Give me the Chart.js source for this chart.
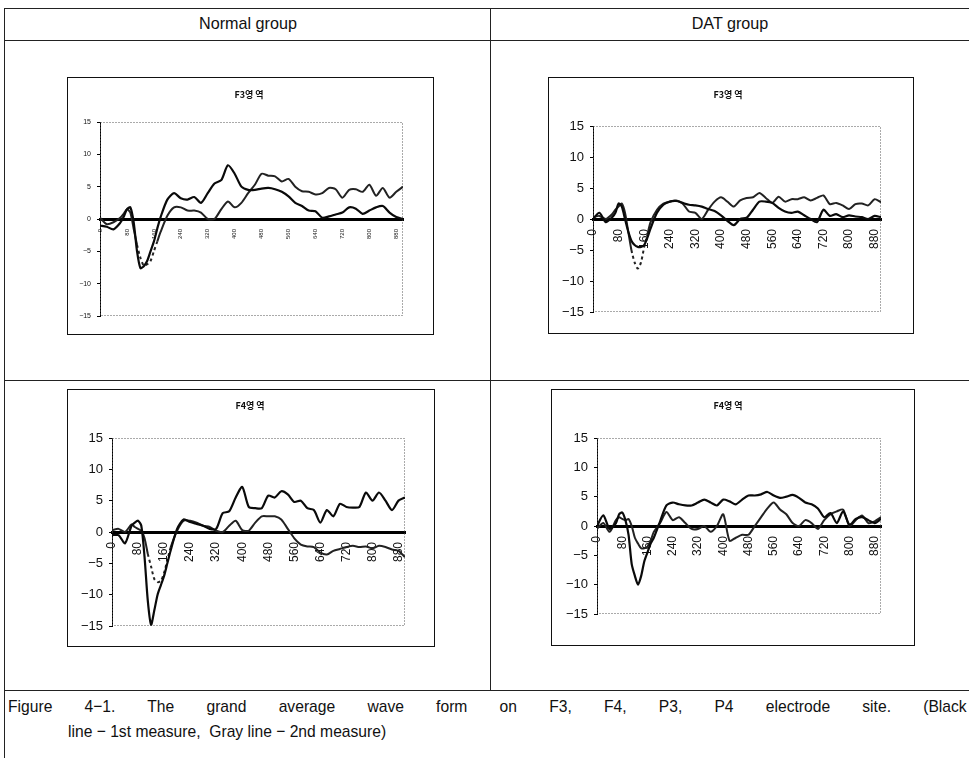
<!DOCTYPE html>
<html>
<head>
<meta charset="utf-8">
<script src="https://cdn.jsdelivr.net/npm/chart.js@4.4.0/dist/chart.umd.min.js"></script>
<style>
body { margin: 0; background: #fff; }
#page { position: relative; width: 969px; height: 758px; overflow: hidden;
        font-family: "Liberation Sans", Arial, sans-serif; color: #111; }
.hl { position: absolute; height: 1px; background: #222; }
.vl { position: absolute; width: 1px; background: #222; }
.box { position: absolute; box-sizing: border-box; border: 1px solid #111; }
.box canvas { position: absolute; left: 0; top: 0; }
.ttl { position: absolute; font: bold 9px "Noto Sans CJK KR", sans-serif; transform: translate(-50%, -50%); white-space: nowrap; }
.head { position: absolute; top: 24px; font-size: 17px; transform: translate(-50%, -50%) scaleX(0.95); white-space: nowrap; }
.cap { position: absolute; font-size: 17px; white-space: nowrap; transform: scaleX(0.92); transform-origin: left top; }
</style>
</head>
<body>
<div id="page">
  <!-- table lines -->
  <div class="hl" style="left:4px; top:8px; width:965px"></div>
  <div class="hl" style="left:4px; top:40px; width:965px"></div>
  <div class="hl" style="left:4px; top:380px; width:965px"></div>
  <div class="hl" style="left:4px; top:690px; width:965px"></div>
  <div class="vl" style="left:4px; top:8px; height:750px"></div>
  <div class="vl" style="left:490px; top:8px; height:682px"></div>

  <div class="head" style="left:248px">Normal group</div>
  <div class="head" style="left:730px">DAT group</div>

  <div class="box" style="left:67px; top:77px; width:367px; height:258px"><canvas id="c1" width="365" height="256"></canvas></div>
  <div class="box" style="left:548px; top:77px; width:366px; height:257px"><canvas id="c2" width="364" height="255"></canvas></div>
  <div class="box" style="left:67px; top:389px; width:368px; height:258px"><canvas id="c3" width="366" height="256"></canvas></div>
  <div class="box" style="left:551px; top:389px; width:364px; height:257px"><canvas id="c4" width="362" height="255"></canvas></div>

  <div class="ttl" style="left:249px; top:94px">F3영 역</div>
  <div class="ttl" style="left:728px; top:94px">F3영 역</div>
  <div class="ttl" style="left:250px; top:405px">F4영 역</div>
  <div class="ttl" style="left:728px; top:405px">F4영 역</div>

  <div class="cap" style="left:8px; top:697px; width:1042px; white-space:normal; text-align:justify; text-align-last:justify">Figure 4−1. The grand average wave form on F3, F4, P3, P4 electrode site. (Black</div>
  <div class="cap" style="left:68px; top:722px">line − 1st measure,&nbsp; Gray line − 2nd measure)</div>
</div>

<script>
// time points (ms)
var times = [0, 20, 40, 60, 70, 80, 90, 100, 110, 120, 130, 140, 150, 160, 170, 180,
  200, 220, 240, 260, 280, 300, 320, 340, 360, 380, 400, 420, 440, 460, 480, 500,
  520, 540, 560, 580, 600, 620, 640, 660, 680, 700, 720, 740, 760, 780, 800, 820,
  840, 860, 880, 900];
var xTicks = [0, 80, 160, 240, 320, 400, 480, 560, 640, 720, 800, 880];
var yTicks = [-15, -10, -5, 0, 5, 10, 15];

// Normal group, F3
var normalF3First = [-1.0, -1.2, -1.6, -0.6, 0.3, 1.5, 1.8, -0.5, -5.0, -7.6, -7.3, -6.5, -5.0, -3.5, -1.5, 0.3,
  3.0, 4.0, 3.2, 3.0, 3.4, 2.5, 4.0, 5.5, 6.0, 8.3, 7.0, 5.0, 4.5, 4.5, 4.7, 4.8,
  4.6, 4.2, 3.5, 2.5, 2.0, 1.3, 1.2, 0.2, 0.4, 0.7, 1.0, 1.8, 1.6, 0.8, 1.3, 1.8,
  2.0, 1.0, 0.3, 0.0];
var normalF3Second = [0.2, -0.8, -0.5, 0.2, 0.8, 1.5, 1.0, -1.5, -4.0, -6.0, -7.2, -7.0, -6.5, -5.0, -3.5, -2.0,
  0.5, 1.8, 1.8, 1.3, 1.3, 1.0, 0.0, 0.0, 1.5, 2.7, 1.8, 2.5, 4.0, 5.3, 7.0, 6.7,
  6.6, 5.8, 6.2, 5.0, 4.3, 4.2, 3.8, 4.0, 4.8, 4.6, 3.3, 4.5, 4.6, 4.2, 5.3, 3.6,
  4.8, 3.3, 4.2, 5.0];

// DAT group, F3
var datF3First = [0.0, 1.0, -0.5, 0.3, 1.0, 2.5, 2.0, 0.0, -2.0, -3.5, -4.2, -4.5, -4.5, -4.2, -3.0, -1.5,
  1.0, 2.3, 2.8, 2.9, 2.6, 2.3, 2.2, 2.0, 1.6, 1.3, 0.6, -0.3, -1.0, 0.0, 0.2, 1.5,
  2.8, 2.8, 2.6, 1.8, 1.2, 1.0, 1.2, 0.6, 0.0, -0.5, 1.5, 0.5, 0.8, 0.3, 0.6, 0.4,
  0.3, 0.0, 0.5, 0.3];
var datF3Second = [0.3, 0.5, 0.0, 0.8, 1.5, 2.0, 2.5, 1.0, -2.0, -5.0, -7.0, -8.0, -7.0, -4.5, -2.5, -0.5,
  1.5, 2.5, 2.8, 3.0, 2.5, 1.2, 1.0, 0.0, 1.5, 2.8, 3.5, 2.8, 2.0, 3.0, 3.4, 3.5,
  4.2, 3.4, 2.6, 3.6, 2.8, 3.2, 3.2, 3.5, 3.0, 3.4, 3.8, 2.4, 2.6, 2.2, 1.6, 2.4,
  2.5, 2.2, 3.2, 2.7];

// Normal group, F4
var normalF4First = [-0.5, -0.5, -1.8, 1.0, 1.5, 1.8, 1.0, -4.0, -11.0, -14.8, -12.5, -10.0, -8.5, -7.0, -5.0, -3.0,
  0.5, 2.0, 1.6, 1.3, 1.0, 0.5, 0.5, 3.0, 3.3, 5.5, 7.2, 4.0, 3.8, 3.8, 5.8, 5.5,
  6.5, 6.0, 4.8, 5.0, 3.8, 3.5, 1.5, 3.5, 2.5, 4.5, 4.0, 3.9, 4.0, 6.3, 5.0, 6.3,
  5.0, 3.5, 5.0, 5.5];
var normalF4Second = [0.3, 0.5, 0.0, 1.2, 0.8, 0.5, 0.2, -1.0, -3.5, -5.5, -7.5, -8.0, -7.8, -6.5, -4.5, -2.5,
  0.2, 1.8, 1.8, 1.5, 1.0, 0.8, 0.2, 0.0, 1.0, 1.8, 0.3, 0.2, 1.5, 2.5, 2.5, 2.5,
  2.0, 0.5, -1.0, -2.0, -2.3, -2.4, -3.3, -3.6, -3.0, -2.7, -2.4, -2.2, -2.4, -2.3, -2.6, -2.2,
  -2.4, -2.8, -3.0, -4.0];

// DAT group, F4
var datF4First = [0.0, 1.8, -0.5, 0.5, 2.0, 2.3, 1.0, -1.5, -6.5, -8.5, -10.0, -8.5, -6.0, -4.5, -3.0, -2.0,
  0.8, 3.5, 4.0, 3.7, 3.5, 3.5, 4.0, 4.5, 4.0, 3.5, 4.5, 4.2, 3.7, 4.5, 5.2, 5.2,
  5.4, 5.8, 5.2, 4.8, 5.0, 5.3, 4.8, 4.0, 3.7, 3.0, 1.5, 2.2, 0.5, 2.5, 0.2, 1.2,
  1.5, 1.0, 0.5, 1.2];
var datF4Second = [-0.5, 0.5, -1.0, 1.0, 1.5, 1.2, 1.0, 1.2, 0.0, -2.0, -3.0, -3.8, -3.8, -3.5, -2.5, -1.0,
  0.5, 2.4, 1.0, 1.5, 0.5, -0.5, -0.5, 0.0, -1.0, 0.0, 2.0, -2.5, -2.0, -1.5, -1.5, 0.0,
  1.5, 3.0, 4.0, 2.8, 2.0, 0.5, 0.0, 1.0, 0.5, -0.5, 1.0, 2.0, 2.5, 2.8, 0.0, 1.0,
  1.8, 0.5, 0.8, 1.5];

// dotted frame round the plot area
const plotFrame = {
  id: 'plotFrame',
  beforeDatasetsDraw(chart) {
    const ctx = chart.ctx, a = chart.chartArea;
    ctx.save();
    ctx.strokeStyle = '#555';
    ctx.lineWidth = 1;
    ctx.setLineDash([1, 2]);
    ctx.strokeRect(a.left + 0.5, a.top + 0.5, a.right - a.left - 1, a.bottom - a.top - 1);
    ctx.restore();
  }
};

function points(values) {
  return times.map((t, i) => ({x: t, y: values[i]}));
}

// the 2nd measure shows dashed only on its early trough
function troughDash(look) {
  return c => (look.dash && c.p1.parsed.x <= 200 && c.p0.parsed.y < -2 && c.p1.parsed.y < -2) ? [3, 3] : undefined;
}

function waveChart(id, first, second, look) {
  return new Chart(document.getElementById(id), {
    type: 'line',
    data: {
      datasets: [
        {label: '1st measure', data: points(first), borderColor: '#0a0a0a', borderWidth: 2.2,
         pointRadius: 0, tension: 0.25},
        {label: '2nd measure', data: points(second), borderColor: '#222', borderWidth: 2,
         pointRadius: 0, tension: 0.25, segment: {borderDash: troughDash(look)}}
      ]
    },
    options: {
      responsive: false,
      animation: false,
      events: [],
      layout: {padding: {top: look.top, right: look.right, bottom: look.bottom, left: 0}},
      plugins: {legend: {display: false}, tooltip: {enabled: false}},
      scales: {
        x: {
          type: 'linear', min: 0, max: 900, position: {y: 0},
          afterBuildTicks: s => { s.ticks = xTicks.map(v => ({value: v})); },
          ticks: {minRotation: 90, maxRotation: 90, autoSkip: false, padding: 2, color: '#111',
                  font: {size: look.font, family: 'Liberation Sans'}},
          grid: {display: false},
          border: {color: '#000', width: 3}
        },
        y: {
          min: -15, max: 15,
          afterBuildTicks: s => { s.ticks = yTicks.map(v => ({value: v})); },
          afterFit: s => { s.width = look.axisW; },
          ticks: {padding: look.pad, color: '#111', font: {size: look.font + 1, family: 'Liberation Sans'},
                  callback: v => v < 0 ? '\u2212' + Math.abs(v) : String(v)},
          grid: {drawOnChartArea: false, tickLength: 3, color: '#000'},
          border: {color: '#000', width: 1}
        }
      }
    },
    plugins: [plotFrame]
  });
}

waveChart('c1', normalF3First, normalF3Second, {top: 44, right: 30, bottom: 18, axisW: 32, font: 6, pad: 6, dash: true});
waveChart('c2', datF3First, datF3Second, {top: 48, right: 32, bottom: 21, axisW: 44, font: 12, pad: 6, dash: true});
waveChart('c3', normalF4First, normalF4Second, {top: 48, right: 29, bottom: 20, axisW: 44, font: 12, pad: 6, dash: true});
waveChart('c4', datF4First, datF4Second, {top: 48, right: 33, bottom: 31, axisW: 45, font: 12, pad: 6, dash: false});
</script>
</body>
</html>
